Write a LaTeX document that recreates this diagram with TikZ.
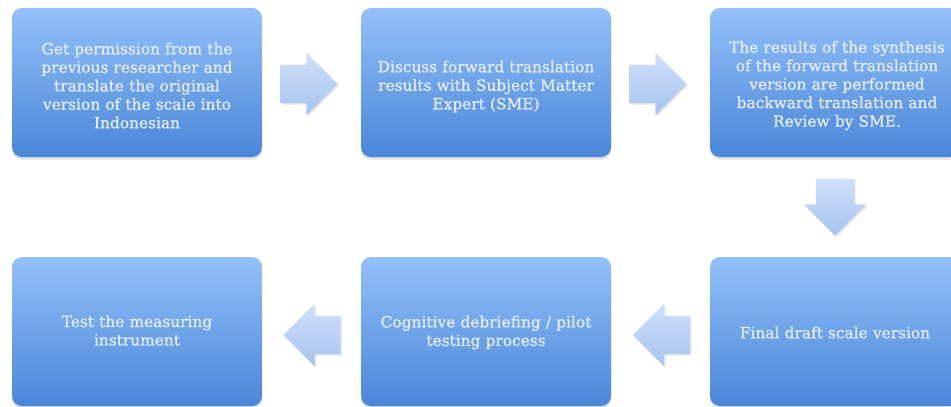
\documentclass[tikz,border=0pt]{standalone}
\usepackage{fontspec}
\setmainfont{DejaVu Serif}
\newfontfamily\boxfont[FakeBold=0.6]{DejaVu Serif}
\usetikzlibrary{shapes.arrows,shadows,calc}
\definecolor{boxtop}{RGB}{147,192,249}
\definecolor{boxbot}{RGB}{74,134,216}
\definecolor{txt}{RGB}{230,238,251}
\definecolor{arrtop}{RGB}{208,224,249}
\definecolor{arrbot}{RGB}{166,195,238}
\begin{document}
\begin{tikzpicture}[x=1pt,y=-1pt,
  stepbox/.style={rounded corners=10pt, top color=boxtop, bottom color=boxbot,
    minimum width=250pt, minimum height=149pt, inner sep=0pt,
    drop shadow={opacity=0.25, shadow xshift=0pt, shadow yshift=-2.5pt}},
  steptext/.style={text width=244pt, align=center, text=txt,
    font=\boxfont\fontsize{15.4}{18.5}\selectfont, inner sep=0pt},
  blockarrow/.style={single arrow, single arrow head extend=12pt,
    inner xsep=0pt, inner ysep=19pt, minimum height=57pt,
    top color=arrtop, bottom color=arrbot, draw=none,
    drop shadow={opacity=0.2, shadow xshift=1.5pt, shadow yshift=-1.5pt}},
  downarrow/.style={blockarrow, shape border rotate=270, inner xsep=19pt, inner ysep=0pt}]
\useasboundingbox (0,0) rectangle (951,407);
\clip (0,0) rectangle (951,407);
\fill[white] (0,0) rectangle (951,407);
% boxes
\node[stepbox] (b1) at (137,82.5) {};
\node[stepbox] (b2) at (486,82.5) {};
\node[stepbox] (b3) at (835,82.5) {};
\node[stepbox] (b4) at (835,331.5) {};
\node[stepbox] (b5) at (486,331.5) {};
\node[stepbox] (b6) at (137,331.5) {};
% texts
\node[steptext] (t1) at ($(b1.center)+(0,3)$) {Get permission from the\\previous researcher and\\translate the original\\version of the scale into\\Indonesian};
\node[steptext] (t2) at ($(b2.center)+(0,4)$) {Discuss forward translation\\results with Subject Matter\\Expert (SME)};
\node[steptext] (t3) at ($(b3.center)+(2,3)$) {The results of the synthesis\\of the forward translation\\version are performed\\backward translation and\\Review by SME.};
\node[steptext] (t4) at ($(b4.center)+(0,1)$) {Final draft scale version};
\node[steptext] (t5) at ($(b5.center)+(0,1)$) {Cognitive debriefing / pilot\\testing process};
\node[steptext] (t6) at ($(b6.center)+(0,-1)$) {Test the measuring\\instrument};
% arrows
\node[blockarrow] (a12) at ($(b1.east)!0.5!(b2.west)+(-12,1.5)$) {};
\node[blockarrow] (a23) at ($(b2.east)!0.5!(b3.west)+(-12,1.5)$) {};
\node[downarrow] (a34) at ($(b3.south)!0.5!(b4.north)+(0,-9.5)$) {};
\node[blockarrow, shape border rotate=180] (a45) at ($(b5.east)!0.5!(b4.west)+(10.5,3.5)$) {};
\node[blockarrow, shape border rotate=180] (a56) at ($(b6.east)!0.5!(b5.west)+(10,3.5)$) {};
\end{tikzpicture}
\end{document}
